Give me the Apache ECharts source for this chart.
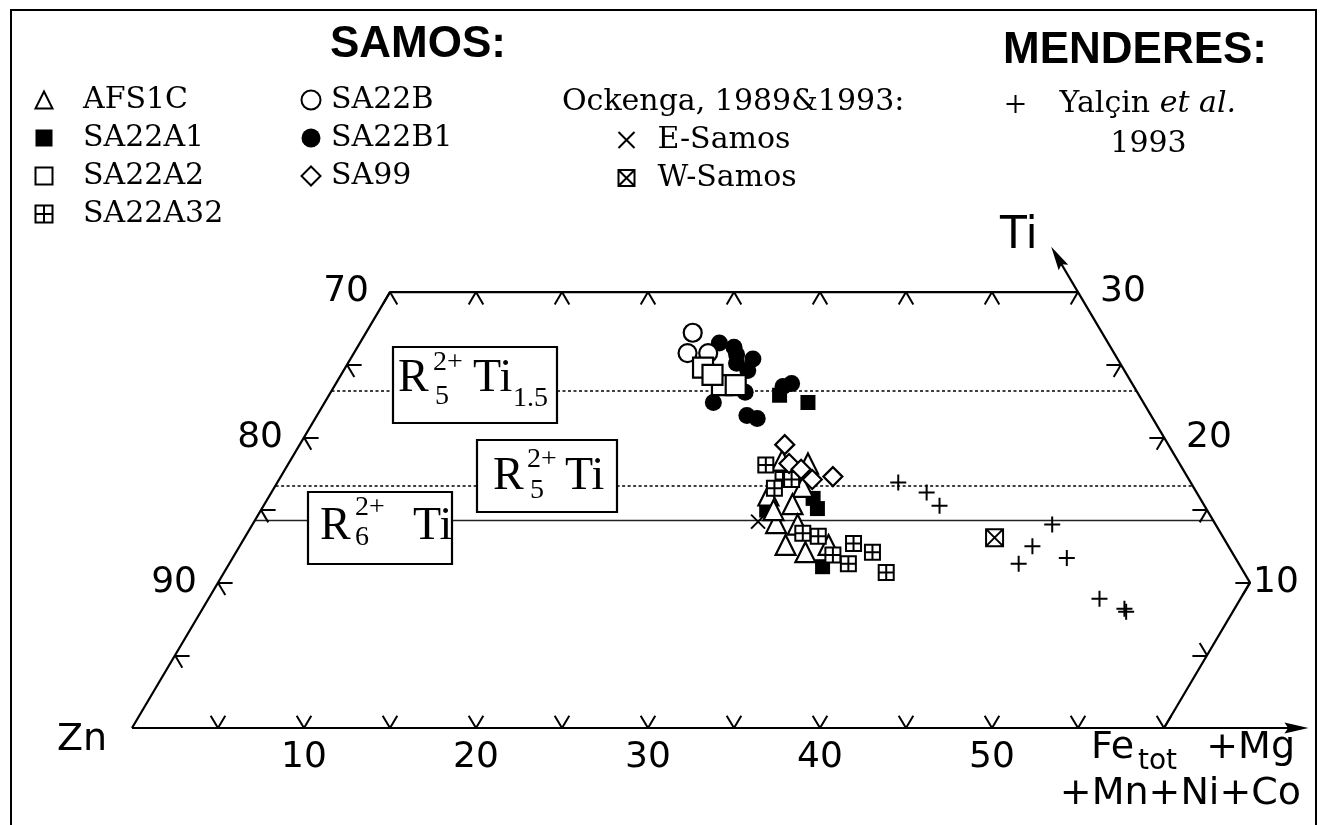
<!DOCTYPE html>
<html>
<head>
<meta charset="utf-8">
<script src="https://cdn.jsdelivr.net/npm/echarts@6/dist/echarts.min.js"></script>
<style>
html,body{margin:0;padding:0;background:#fff;}
#chart{width:1320px;height:825px;}
</style>
</head>
<body>
<div id="chart"></div>
<script>
// Compositions: [Fe_tot+Mg+Mn+Ni+Co %, Ti %]  (Zn = 100 - both)
const AFS1C   = [[28.6,18.4],[30.2,18.2],[30.7,16.6],[29.0,16.0],[30.7,15.4],[30.4,14.1],[31.7,14.0],[31.7,12.6],[33.1,12.1],[34.2,12.6],[29.8,15.0]];
const SA22A1  = [[26.2,22.9],[28.1,22.4],[32.3,15.1],[31.7,15.8],[34.6,11.1],[29.4,15.0]];
const SA22A2  = [[20.8,24.8],[22.5,23.6],[23.3,23.6],[21.6,24.3]];
const SA22A32 = [[27.8,18.1],[29.3,17.1],[29.8,17.1],[29.1,16.5],[32.3,13.4],[33.3,13.2],[34.8,11.9],[35.6,12.7],[37.0,12.1],[36.0,11.3],[38.5,10.7]];
const SA22B   = [[19.0,27.2],[19.4,25.8],[20.6,25.8]];
const SA22B1  = [[20.9,26.5],[21.9,26.2],[22.3,25.7],[22.6,25.1],[23.4,25.4],[23.5,24.6],[24.1,23.1],[22.6,22.4],[25.0,21.5],[25.7,21.3],[26.5,23.7],[26.1,23.5]];
const SA99    = [[28.2,19.5],[29.1,18.2],[30.0,17.8],[31.0,17.1],[32.1,17.3]];
const E_SAMOS = [[29.3,14.2]];
const W_SAMOS = [[43.6,13.1]];
const YALCIN  = [[36.1,16.9],[38.1,16.2],[39.3,15.3],[46.5,14.0],[46.1,12.5],[45.9,11.3],[48.5,11.7],[51.8,8.9],[53.6,8.2],[53.8,8.0]];

// Diagram frame / tick values (compositions)
const bottomTickFe = [5,10,15,20,25,30,35,40,45,50,55,60];
const bottomLabelFe = [10,20,30,40,50];
const topTickFe = [0,5,10,15,20,25,30,35];
const leftTickTi = [5,10,15,20,25];
const leftLabelZn = [70,80,90];
const rightTickTi = [10,15,20,25,30];
const rightLabelTi = [30,20,10];
const lowerRightTickTi = [5];
const phaseLineTi = [23.2, 16.7, 14.3];
const outlineComp = [[0,0],[60,0],[60,10],[40,30],[0,30],[0,0]];
const tiArrowComp = [[40,30],[37.6,32.4]];
const feArrowComp = [[60,0],[67.7,0]];

// ternary (Fe, Ti) -> cartesian (Fe + Ti/2, Ti)
const toXY = c => [c[0] + c[1] / 2, c[1]];

const PLUSBOX = 'path://M0,0H10V10H0Z M5,0V10 M0,5H10';
const XBOX = 'path://M0,0H10V10H0Z M0,0L10,10 M10,0L0,10';
const CROSS = 'path://M0,0L10,10 M10,0L0,10';
const PLUS = 'path://M5,0V10 M0,5H10';
const ARROW = 'path://M0,0M26,26M13,0L19,26L13,22L7,26Z';

const marks = [
  {name:'SA22B1', data:SA22B1, symbol:'circle', size:17, fill:'#000', bw:0},
  {name:'SA22B', data:SA22B, symbol:'circle', size:18, fill:'#fff', bw:2.2},
  {name:'SA22A2', data:SA22A2, symbol:'rect', size:20, fill:'#fff', bw:2.2},
  {name:'SA22A1', data:SA22A1, symbol:'rect', size:15, fill:'#000', bw:0},
  {name:'AFS1C', data:AFS1C, symbol:'triangle', size:20, fill:'#fff', bw:2.2},
  {name:'SA22A32', data:SA22A32, symbol:PLUSBOX, size:15, fill:'#fff', bw:2},
  {name:'SA99', data:SA99, symbol:'diamond', size:19, fill:'#fff', bw:2.2},
  {name:'E-Samos', data:E_SAMOS, symbol:CROSS, size:14, fill:'none', bw:2},
  {name:'W-Samos', data:W_SAMOS, symbol:XBOX, size:17, fill:'#fff', bw:2},
  {name:'Yalçin et al. 1993', data:YALCIN, symbol:PLUS, size:16, fill:'none', bw:2}
];

// tick segments
const L = 0.85;
const segs = [];
bottomTickFe.forEach(f => { segs.push([[f,0],[f,L]]); segs.push([[f,0],[f-L,L]]); });
topTickFe.forEach(f => { segs.push([[f,30],[f,30-L]]); segs.push([[f,30],[f+L,30-L]]); });
leftTickTi.forEach(t => { segs.push([[0,t],[L,t]]); segs.push([[0,t],[L,t-L]]); });
rightTickTi.forEach(t => { const f = 70 - t; segs.push([[f,t],[f-L,t]]); segs.push([[f,t],[f,t-L]]); });
lowerRightTickTi.forEach(t => { segs.push([[60,t],[60-L,t]]); segs.push([[60,t],[60-L,t+L]]); });

const series = [];
series.push({type:'line', data: outlineComp.map(toXY), symbol:'none', silent:true,
  lineStyle:{color:'#000', width:2.2, opacity:1}, z:3});
series.push({type:'lines', coordinateSystem:'cartesian2d', silent:true, z:3,
  lineStyle:{color:'#000', width:2, opacity:1},
  data: segs.map(s => ({coords: s.map(toXY)}))});
const phaseStyles = [
  {type:[3,2.5], width:1.6, color:'#000', opacity:1},
  {type:[3,2.5], width:1.6, color:'#000', opacity:1},
  {type:'solid', width:1.4, color:'#222', opacity:1}
];
series.push({type:'lines', coordinateSystem:'cartesian2d', silent:true, z:2,
  data: phaseLineTi.map((t, i) => ({coords: [toXY([0,t]), toXY([70-t,t])], lineStyle: phaseStyles[i]}))});
series.push({type:'lines', coordinateSystem:'cartesian2d', silent:true, z:3,
  symbol:['none', ARROW], symbolSize:[1, 24],
  lineStyle:{color:'#000', width:2.2, opacity:1}, itemStyle:{color:'#000', opacity:1},
  data:[{coords: tiArrowComp.map(toXY)}, {coords: feArrowComp.map(toXY)}]});

const numLabel = {show:true, color:'#000', opacity:1, fontFamily:'DejaVu Sans', fontSize:36, formatter:'{b}'};
const labelHost = {type:'scatter', silent:true, symbolSize:0.1, itemStyle:{color:'#000', opacity:1}, z:4};
series.push(Object.assign({}, labelHost, {
  label:Object.assign({position:'left', distance:21}, numLabel),
  data: leftLabelZn.map(z => ({name:String(z), value: toXY([0, 100 - z])}))}));
series.push(Object.assign({}, labelHost, {
  label:Object.assign({position:'right', distance:22}, numLabel),
  data: rightLabelTi.map(t => ({name:String(t), value: toXY([70 - t, t]), label: t === 10 ? {distance:3} : undefined}))}));
series.push(Object.assign({}, labelHost, {
  label:Object.assign({position:'bottom', distance:12}, numLabel),
  data: bottomLabelFe.map(f => ({name:String(f), value: toXY([f, 0])}))}));

marks.forEach(m => series.push({
  type:'scatter', name:m.name, data:m.data.map(toXY), symbol:m.symbol, symbolSize:m.size, z:5,
  itemStyle:{color:m.fill, borderColor:'#000', borderWidth:m.bw, opacity:1},
  emphasis:{disabled:true}
}));

const legTxt = pad => ({color:'#000', fontFamily:'DejaVu Serif', fontSize:30, lineHeight:30, padding:[0,0,0,pad]});
const legBase = {orient:'vertical', padding:0, selectedMode:false, itemGap:8, symbolKeepAspect:true};
const legend = [
  Object.assign({}, legBase, {data:['AFS1C','SA22A1','SA22A2','SA22A32'], left:34.5, top:85, itemWidth:17, itemHeight:17, textStyle:legTxt(25.5)}),
  Object.assign({}, legBase, {data:['SA22B','SA22B1','SA99'], left:300.5, top:85, itemWidth:19, itemHeight:19, textStyle:legTxt(5.5)}),
  Object.assign({}, legBase, {data:['E-Samos','W-Samos'], left:616, top:125, itemWidth:16, itemHeight:16, textStyle:legTxt(18)}),
  Object.assign({}, legBase, {data:['Yalçin et al. 1993'], left:1004, top:44, itemWidth:18, itemHeight:18,
    formatter: () => '{sp| }\n{n|Yalçin} {i|et al.}\n{y|1993}',
    textStyle:{color:'#000', fontFamily:'DejaVu Serif', fontSize:30, lineHeight:40, padding:[0,0,0,30],
      rich:{
        sp:{fontSize:30, lineHeight:40},
        n:{fontSize:30, fontFamily:'DejaVu Serif', lineHeight:40},
        i:{fontSize:30, fontFamily:'DejaVu Serif', fontStyle:'italic', lineHeight:40},
        y:{fontSize:30, fontFamily:'DejaVu Serif', lineHeight:40, width:178, align:'center'}
      }}})
];

const T = (text, x, y, font, align) => ({type:'text', x:x, y:y, z:60, silent:true,
  style:{text:text, font:font, fill:'#000', align: align || 'left', verticalAlign:'middle'}});
const box = (x, y, w, h) => ({type:'rect', z:55, silent:true, shape:{x:x, y:y, width:w, height:h},
  style:{fill:'#fff', stroke:'#000', lineWidth:2.2}});
const big = '46px "Liberation Serif"', small = '28px "Liberation Serif"';
const graphic = [
  {type:'rect', z:0, silent:true, shape:{x:11, y:10, width:1305, height:840}, style:{fill:'none', stroke:'#000', lineWidth:2}},
  T('SAMOS:', 330, 45, 'bold 44px "Liberation Sans"'),
  T('MENDERES:', 1003, 51, 'bold 44px "Liberation Sans"'),
  T('Ockenga, 1989&1993:', 562, 102, '30px "DejaVu Serif"'),
  T('Ti', 1000, 237, '44px "DejaVu Sans"'),
  T('Zn', 107, 740, '38px "DejaVu Sans"', 'right'),
  T('Fe', 1091, 748, '38px "DejaVu Sans"'),
  T('tot', 1138, 762, '28px "DejaVu Sans"'),
  T('+Mg', 1295, 748, '38px "DejaVu Sans"', 'right'),
  T('+Mn+Ni+Co', 1301, 794, '38px "DejaVu Sans"', 'right'),
  box(393, 347, 164, 76), T('R', 398, 379, big), T('2+', 433, 363, small), T('5', 435, 397, small), T('Ti', 473, 379, big), T('1.5', 513, 399, small),
  box(477, 440, 140, 72), T('R', 493, 477, big), T('2+', 527, 460, small), T('5', 530, 491, small), T('Ti', 565, 477, big),
  box(308, 492, 144, 72), T('R', 320, 527, big), T('2+', 355, 508, small), T('6', 355, 538, small), T('Ti', 413, 527, big)
];

const chart = echarts.init(document.getElementById('chart'));
chart.setOption({
  animation:false,
  backgroundColor:'#fff',
  grid:{left:0, right:0, top:0, bottom:0, containLabel:false, outerBoundsMode:'none'},
  xAxis:{type:'value', min:-7.674, max:69.07, show:false},
  yAxis:{type:'value', min:-6.676, max:50.10, show:false},
  legend: legend,
  graphic: graphic,
  series: series
});
</script>
</body>
</html>
